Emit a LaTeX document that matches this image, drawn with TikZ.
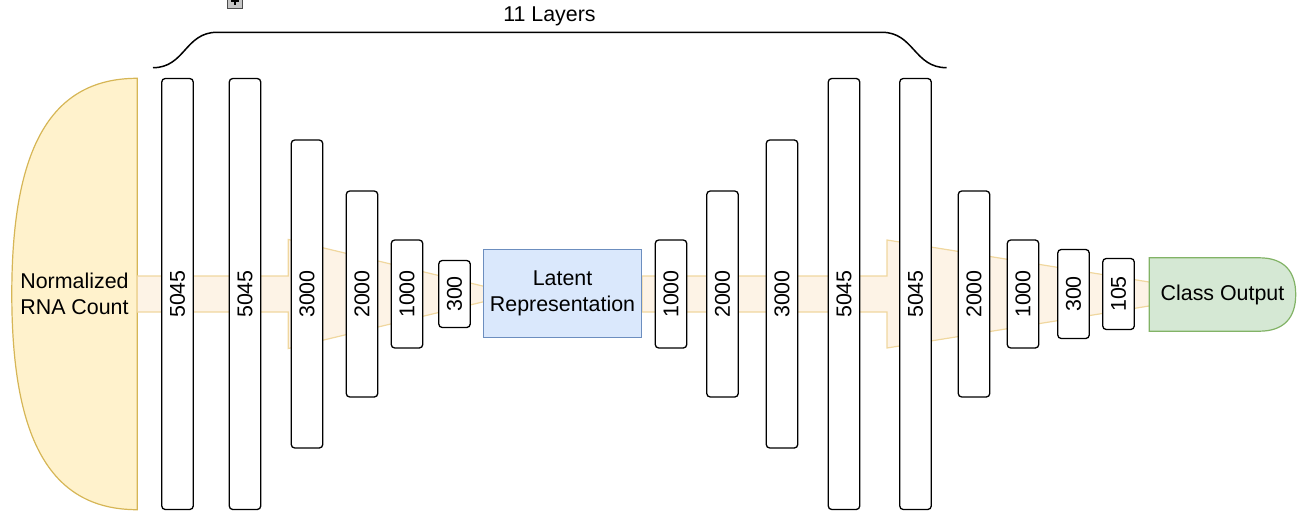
\documentclass[tikz,border=0pt]{standalone}
\usepackage{fontspec}
\setmainfont{Liberation Sans}
\usetikzlibrary{calc}
\usetikzlibrary{backgrounds}
\definecolor{inFill}{HTML}{FFF2CC}
\definecolor{inLine}{HTML}{D6B656}
\definecolor{latFill}{HTML}{DAE8FC}
\definecolor{latLine}{HTML}{6C8EBF}
\definecolor{outFill}{HTML}{D5E8D4}
\definecolor{outLine}{HTML}{82B366}
\definecolor{flowFill}{HTML}{FDF3E6}
\definecolor{flowLine}{HTML}{F0D79F}

\begin{document}
\begin{tikzpicture}[x=1pt,y=-1pt,
    font=\fontsize{21.4}{25.7}\selectfont,
    layer/.style={draw,fill=white,rounded corners=3.5pt,line width=1.3pt,
      inner sep=0pt,minimum width=31.5pt,minimum height=#1},
    flow/.style={fill=flowFill,draw=flowLine,line width=1.2pt}]
    \useasboundingbox (0,0) rectangle (1306,524);

    \node (rna) [minimum width=125pt,minimum height=431pt,inner sep=0pt,align=center]
      at (74.5,294) {Normalized\\RNA Count};
    \node (lat) [draw=latLine,fill=latFill,line width=1.2pt,inner sep=0pt,
      minimum width=158pt,minimum height=88pt,align=center]
      at (562.5,293.5) {Latent\\Representation};
    \node (out) [minimum width=146pt,minimum height=73pt,inner sep=0pt]
      at (1222.5,294.5) {Class Output};

    \foreach \nm/\x/\h/\lab in {e1/177.5/431/5045,e2/245/431/5045,e3/307/308/3000,
        e4/362/206/2000,e5/407/108/1000,e6/454.5/67/300,
        d1/671/108/1000,d2/722.5/206/2000,d3/782/308/3000,d4/844/431/5045,
        d5/915.5/431/5045,d6/974/206/2000,d7/1023/108/1000,d8/1073.5/89/300,
        d9/1118.5/71/105}
      \node[layer=\h] (\nm) at (\x,294) {\rotatebox{90}{\lab}};

    \coordinate (h1) at (288.3,294);
    \coordinate (t1) at (516,294);
    \coordinate (h2) at (887,294);
    \coordinate (t2) at (1224,294);

    \begin{scope}[on background layer]
      \draw[fill=inFill,draw=inLine,line width=1.2pt] (rna.north east) -- (rna.south east)
        .. controls +(-90,0) and +(0,140) .. (rna.west)
        .. controls +(0,-140) and +(-90,0) .. (rna.north east) -- cycle;
      \draw[flow] ($(rna.east)+(0,-18)$) -- ($(h1)+(0,-18)$) -- ($(h1)+(0,-54.5)$)
        -- (t1) -- ($(h1)+(0,54.5)$) -- ($(h1)+(0,18)$) -- ($(rna.east)+(0,18)$) -- cycle;
      \draw[flow] ($(lat.east)+(0,-17.5)$) -- ($(h2)+(0,-18)$) -- ($(h2)+(0,-54)$)
        -- (t2) -- ($(h2)+(0,54)$) -- ($(h2)+(0,18)$) -- ($(lat.east)+(0,18.5)$) -- cycle;
      \draw[fill=outFill,draw=outLine,line width=1.2pt] (out.north west)
        -- ($(out.north east)+(-36.5,0)$) .. controls +(24,0) and +(0,-24) .. (out.east)
        .. controls +(0,24) and +(24,0) .. ($(out.south east)+(-36.5,0)$)
        -- (out.south west) -- cycle;
    \end{scope}

    \node (lbl) [anchor=base] at (549.5,22) {11 Layers};
    \draw[line width=1.5pt] (153,67.7) .. controls (185,67.7) and (185,32.3) .. (217,32.3)
      -- (882,32.3) .. controls (914,32.3) and (914,67.7) .. (946.6,67.7);

    \draw[fill=gray!45,draw=gray!60!black,line width=0.8pt] (227.5,-6) rectangle (242.5,8);
    \draw[line width=2pt] (231,1) -- (239,1) (235,-3) -- (235,5);
\end{tikzpicture}
\end{document}
